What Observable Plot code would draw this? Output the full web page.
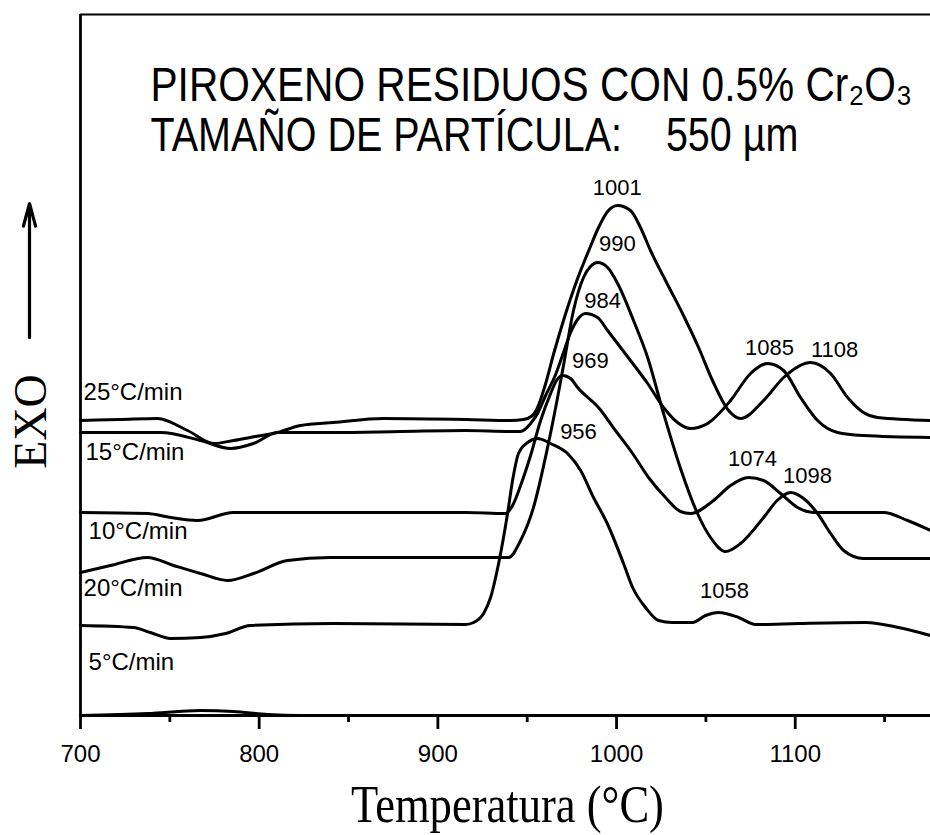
<!DOCTYPE html>
<html>
<head>
<meta charset="utf-8">
<script src="https://cdn.jsdelivr.net/npm/d3@7"></script>
<script src="https://cdn.jsdelivr.net/npm/@observablehq/plot@0.6"></script>
<style>
  html, body { margin: 0; padding: 0; background: #fff; }
</style>
</head>
<body>
<div id="chart"></div>
<script>
// ---- data (temperature °C, signal in arbitrary units) ----
const t25 = [700, 722.4, 743.1, 759.9, 774.4, 785.6, 797.9, 810.3, 823.1, 841.6, 869.6, 915.5, 940.7, 947.9, 953.0, 955.8, 960.0, 965.0, 970.3, 978.2, 985.4, 989.4, 995.0, 1000.6, 1007.8, 1013.4, 1019.0, 1027.4, 1036.9, 1045.9, 1053.7, 1062.7, 1069.4, 1082.3, 1093.5, 1108.6, 1119.8, 1129.3, 1138.2, 1146.1, 1175.7];
const v25 = [29.5, 29.6, 29.7, 28.5, 27.2, 27.5, 27.9, 28.3, 29.0, 29.3, 29.7, 29.6, 29.5, 29.6, 30.0, 30.8, 33.0, 36.3, 39.5, 43.7, 46.9, 48.6, 50.4, 51.0, 50.5, 48.8, 46.5, 43.5, 40.2, 36.8, 33.5, 30.5, 29.7, 31.5, 33.8, 35.3, 34.2, 31.8, 30.3, 29.8, 29.5];

const t15 = [700, 722.4, 744.8, 767.2, 784.0, 796.8, 810.3, 841.6, 879.1, 915.5, 940.7, 946.3, 951.9, 955.8, 960.3, 965.9, 970.3, 974.3, 978.2, 982.6, 989.4, 995.0, 1007.8, 1017.4, 1026.3, 1034.1, 1041.4, 1050.9, 1063.8, 1075.0, 1084.5, 1093.5, 1103.0, 1112.5, 1123.7, 1138.2, 1175.7];
const v15 = [28.3, 28.3, 28.3, 27.5, 26.7, 27.2, 28.3, 28.3, 28.4, 28.5, 28.4, 28.4, 29.2, 30.2, 32.0, 34.1, 36.3, 38.3, 39.6, 40.2, 39.8, 38.5, 35.5, 33.2, 30.8, 29.3, 28.7, 29.2, 31.5, 34.2, 35.2, 34.5, 31.8, 29.5, 28.3, 28.0, 27.8];

const t10 = [700, 737.5, 750.4, 765.5, 785.6, 823.1, 915.5, 937.9, 941.8, 946.3, 951.9, 957.5, 963.1, 966.4, 969.8, 974.3, 978.2, 989.9, 999.4, 1009.0, 1017.9, 1027.4, 1035.8, 1041.4, 1054.3, 1063.8, 1073.9, 1082.3, 1091.8, 1101.3, 1110.3, 1149.4, 1162.9, 1175.7];
const v10 = [20.3, 20.2, 19.8, 19.5, 20.3, 20.3, 20.3, 20.2, 21.0, 23.0, 26.0, 29.5, 32.2, 33.5, 34.0, 33.7, 32.8, 30.8, 28.5, 26.2, 23.8, 21.8, 20.4, 20.2, 21.5, 23.0, 23.8, 23.5, 22.2, 20.8, 20.3, 20.3, 19.5, 18.5];

const t20 = [700, 716.8, 737.5, 752.1, 767.2, 782.3, 796.8, 815.9, 839.9, 915.5, 939.6, 946.3, 953.5, 961.4, 967.0, 970.3, 975.9, 981.5, 985.4, 989.4, 995.0, 1000.6, 1009.5, 1017.4, 1026.3, 1035.8, 1045.3, 1052.6, 1061.0, 1069.4, 1082.3, 1089.9, 1097.4, 1104.7, 1112.5, 1119.8, 1127.1, 1138.2, 1175.7];
const v20 = [14.3, 15.0, 15.8, 15.0, 14.2, 13.5, 14.2, 15.5, 15.8, 15.8, 15.8, 17.5, 20.8, 26.8, 31.8, 35.0, 40.5, 43.8, 44.9, 45.3, 44.8, 43.2, 39.5, 35.8, 30.2, 24.7, 20.2, 17.8, 16.4, 17.2, 19.8, 21.5, 22.3, 21.7, 20.2, 18.2, 16.5, 15.7, 15.7];

const t5 = [700, 729.7, 739.1, 750.4, 767.2, 781.2, 795.1, 841.6, 915.5, 920.0, 925.6, 929.5, 934.0, 939.0, 941.8, 945.1, 950.2, 955.8, 963.1, 972.6, 979.9, 987.1, 994.8, 1003.9, 1009.0, 1016.2, 1023.5, 1031.3, 1042.5, 1049.8, 1057.1, 1068.3, 1077.8, 1101.9, 1139.4, 1157.8, 1175.7];
const v5 = [9.0, 8.8, 8.3, 7.7, 7.8, 8.2, 9.0, 9.2, 9.1, 9.3, 10.2, 11.8, 15.2, 20.2, 23.5, 26.2, 27.3, 27.7, 27.2, 26.2, 24.5, 21.8, 19.2, 15.2, 12.8, 10.8, 9.5, 9.3, 9.3, 10.0, 10.3, 9.8, 9.1, 9.2, 9.3, 8.8, 8.0];

const tBase = [700, 737.5, 767.2, 785.6, 804.7, 823.1, 1175.7];
const vBase = [0, 0.2, 0.5, 0.4, 0.1, 0, 0];

const rateLabels = ["25°C/min", "15°C/min", "10°C/min", "20°C/min", "5°C/min"];
const rateLabelT = [701.7, 702.8, 704.5, 701.7, 704.5];
const rateLabelV = [32.3, 26.3, 18.4, 12.7, 5.3];

const peakLabels = ["1001", "990", "984", "969", "956", "1085", "1108", "1074", "1098", "1058"];
const peakLabelT = [1000.4, 1000.4, 992.2, 985.4, 978.7, 1085.6, 1122.0, 1076.1, 1106.9, 1060.4];
const peakLabelV = [52.8, 47.2, 41.5, 35.5, 28.4, 36.8, 36.6, 25.7, 24.0, 12.5];

const majorTicks = [700, 800, 900, 1000, 1100];
const minorTicks = [750, 850, 950, 1050, 1150];

const titleLine1 = "PIROXENO RESIDUOS CON 0.5% Cr₂O₃";
const titleLine2 = "TAMAÑO DE PARTÍCULA:\u00a0\u00a0\u00a0\u00a0550 µm";
const xLabel = "Temperatura (°C)";
const yLabel = "EXO";

// ---- tables built from the arrays ----
const series = [
  {name: "25", t: t25, v: v25},
  {name: "15", t: t15, v: v15},
  {name: "10", t: t10, v: v10},
  {name: "20", t: t20, v: v20},
  {name: "5", t: t5, v: v5},
  {name: "base", t: tBase, v: vBase}
];
const rows = series.flatMap(s => s.t.map((t, i) => ({curve: s.name, t, v: s.v[i]})));
const rateRows = rateLabels.map((label, i) => ({label, t: rateLabelT[i], v: rateLabelV[i]}));
const peakRows = peakLabels.map((label, i) => ({label, t: peakLabelT[i], v: peakLabelV[i]}));

const sans = "'Liberation Sans', Arial, Helvetica, sans-serif";
const serif = "'Liberation Serif', 'Times New Roman', Times, serif";

const chart = Plot.plot({
  width: 930,
  height: 835,
  marginLeft: 80,
  marginRight: 0,
  marginTop: 14,
  marginBottom: 120,
  x: {domain: [700, 1175.7]},
  y: {domain: [0, 70.1], axis: null},
  style: {fontFamily: sans, background: "#fff", color: "#000", overflow: "visible"},
  marks: [
    Plot.ruleX([700], {strokeWidth: 2.8}),
    Plot.ruleY([0], {strokeWidth: 2.8}),
    Plot.ruleY([70.1], {strokeWidth: 2}),
    Plot.axisX({ticks: majorTicks, tickSize: 14, tickPadding: 15, tickFormat: "d", fontSize: 24, strokeWidth: 2.8, label: null}),
    Plot.axisX({ticks: minorTicks, tickSize: 7, tickFormat: () => "", strokeWidth: 2.8, label: null}),
    Plot.line(rows, {x: "t", y: "v", z: "curve", curve: "monotone-x", strokeWidth: 3, stroke: "#000"}),
    Plot.text(rateRows, {x: "t", y: "v", text: "label", textAnchor: "start", fontSize: 24, fill: "#000"}),
    Plot.text(peakRows, {x: "t", y: "v", text: "label", fontSize: 22, fill: "#000", stroke: "#fff", strokeWidth: 2.5, paintOrder: "stroke"}),
    Plot.text([titleLine1], {text: d => d, frameAnchor: "top-left", dx: 70, dy: 86, textAnchor: "start", lineAnchor: "bottom", fontSize: 48, fill: "#000"}),
    Plot.text([titleLine2], {text: d => d, frameAnchor: "top-left", dx: 70, dy: 136, textAnchor: "start", lineAnchor: "bottom", fontSize: 48, fill: "#000"}),
    Plot.text([xLabel], {text: d => d, frameAnchor: "bottom", dx: 2, dy: 106, lineAnchor: "bottom", fontFamily: serif, fontSize: 52, fill: "#000"}),
    Plot.text([yLabel], {text: d => d, x: 700, y: 29.4, dx: -35, rotate: -90, lineAnchor: "bottom", fontFamily: serif, fontSize: 46, fill: "#000"}),
    Plot.arrow([0], {x1: 700, x2: 700, y1: 37.8, y2: 51.2, dx: -51, strokeWidth: 3.2, headLength: 11, headAngle: 30, stroke: "#000"})
  ]
});

document.getElementById("chart").appendChild(chart);

// condensed-looking text in the reference: scale horizontally to the measured widths
const allText = Array.from(chart.querySelectorAll("text"));
function condense(content, target) {
  const t = allText.find(el => el.textContent === content);
  if (!t) return;
  const w = t.getComputedTextLength();
  if (!w) return;
  const s = target / w;
  const tr = t.getAttribute("transform") || "";
  t.setAttribute("transform", `${tr} scale(${s.toFixed(4)},1)`);
}
condense(titleLine1, 762);
condense(titleLine2, 648);
condense(xLabel, 313);
</script>
</body>
</html>
